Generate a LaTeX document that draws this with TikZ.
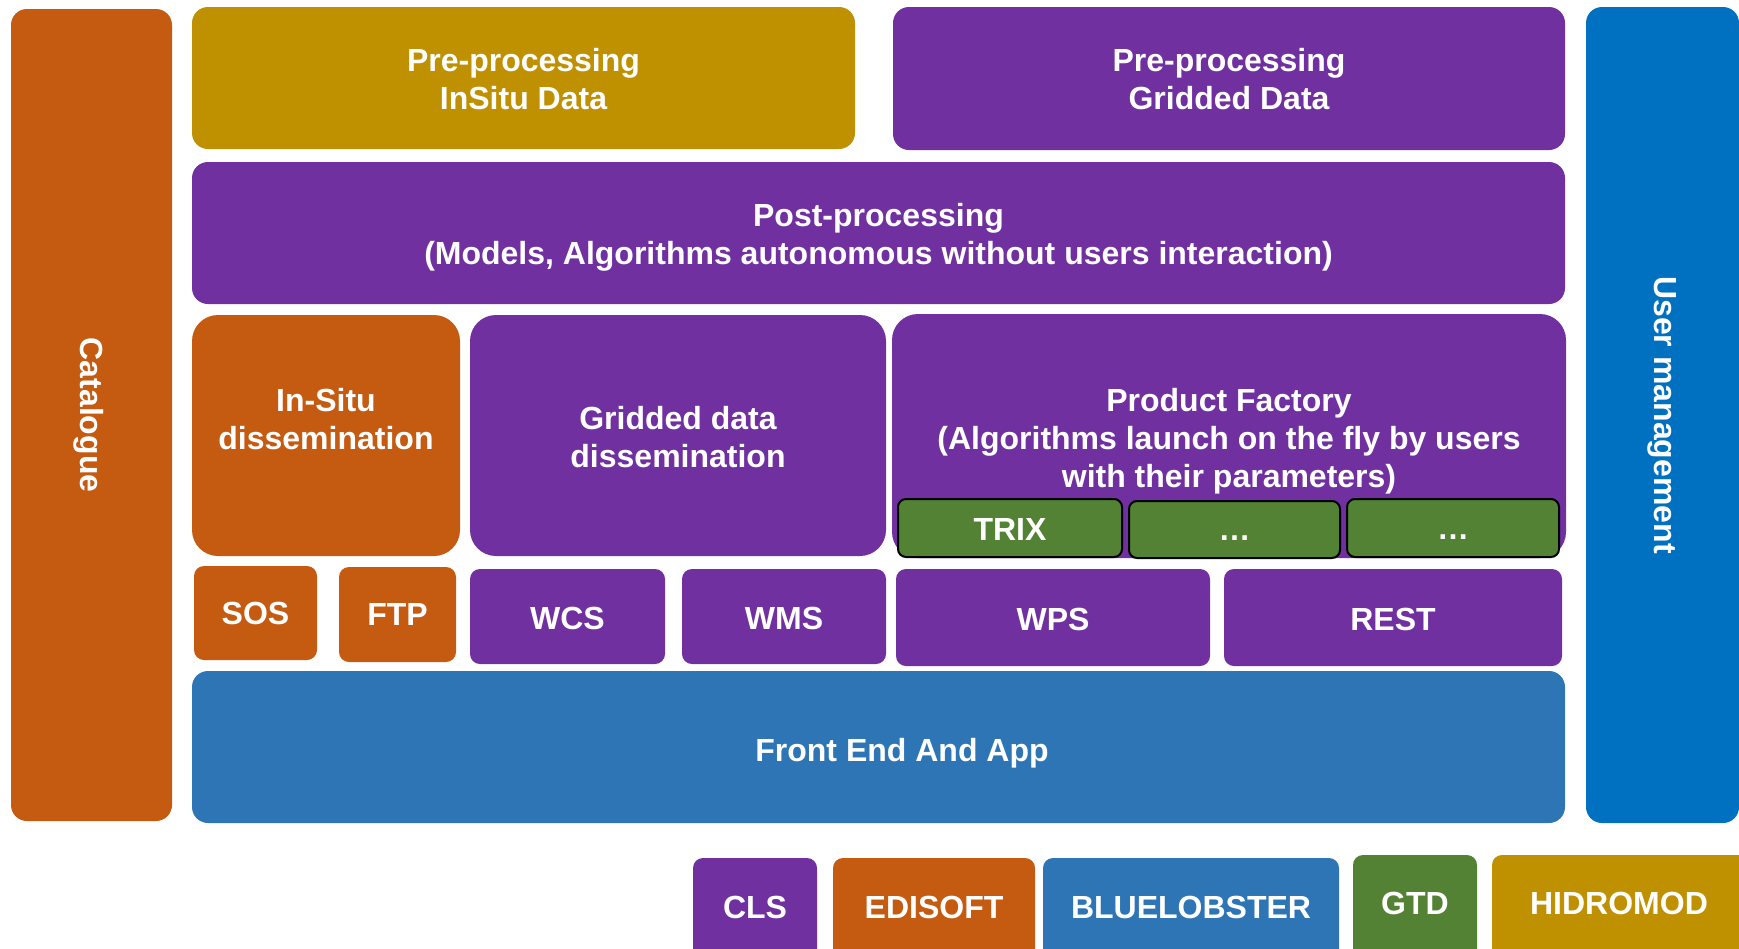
\documentclass[tikz,border=0pt]{standalone}
\usepackage{fontspec}
\setmainfont{Liberation Sans}
\definecolor{orng}{HTML}{C55A11}
\definecolor{gold}{HTML}{BF9000}
\definecolor{purp}{HTML}{7030A0}
\definecolor{fblue}{HTML}{2E75B6}
\definecolor{ublue}{HTML}{0070C0}
\definecolor{grn}{HTML}{548235}
\newcommand{\dn}[2]{\raisebox{-#1}[\height][\depth]{#2}}
\begin{document}
\begin{tikzpicture}[x=1pt,y=-1pt,
  box/.style={rectangle, rounded corners=16pt, inner sep=0pt, text=white,
    font=\fontsize{32}{38}\selectfont\bfseries, align=center},
  bigr/.style={rounded corners=26pt},
  smallr/.style={rounded corners=10pt},
  subbox/.style={box, fill=grn, draw=black, line width=2pt, rounded corners=8pt},
  txt/.style={inner sep=0pt, text=white, font=\fontsize{32}{38}\selectfont\bfseries, align=center}]
\useasboundingbox (0,0) rectangle (1739,948);
\clip (0,0) rectangle (1739,948);

\node[box, fill=orng, rotate=-90, minimum width=812pt, minimum height=161pt] (cat) at (91.5,415) {\dn{3pt}{Catalogue}};
\node[box, fill=ublue, rotate=-90, minimum width=816pt, minimum height=153pt] (user) at (1662.5,415) {User management};

\node[box, fill=gold, minimum width=663pt, minimum height=142pt] (preis) at (523.5,78) {};
\node[txt] (preist) at (523.5,79) {Pre-processing\\InSitu Data};
\node[box, fill=purp, minimum width=672pt, minimum height=143pt] (pregd) at (1229,78.5) {};
\node[txt] (pregdt) at (1229,79.5) {Pre-processing\\Gridded Data};
\node[box, fill=purp, minimum width=1373pt, minimum height=142pt] (post) at (878.5,233) {};
\node[txt] (postt) at (878.5,237.5) {Post-processing\\(Models, Algorithms autonomous without users interaction)};

\node[box, bigr, fill=orng, minimum width=268pt, minimum height=241pt] (isdiss) at (326,435.5) {};
\node[txt] (isdisst) at (326,419.5) {In-Situ\\dissemination};
\node[box, bigr, fill=purp, minimum width=416pt, minimum height=241pt] (gddiss) at (678,435.5) {};
\node[txt] (gddisst) at (678,437.5) {Gridded data\\dissemination};
\node[box, bigr, fill=purp, minimum width=674pt, minimum height=244pt] (pf) at (1229,436) {};
\node[txt] (pft) at (1229,441) {Product Factory\\(Algorithms launch on the fly by users\\with their parameters)};

\node[subbox, minimum width=224pt, minimum height=58pt] (trix) at (1010,528) {\dn{1pt}{TRIX}};
\node[subbox, minimum width=211pt, minimum height=57pt] (dotsa) at (1234.5,529.5) {\dn{9pt}{…}};
\node[subbox, minimum width=212pt, minimum height=58pt] (dotsb) at (1453,528) {\dn{9pt}{…}};

\node[box, smallr, fill=orng, minimum width=123pt, minimum height=94pt] (sos) at (255.5,613) {SOS};
\node[box, smallr, fill=orng, minimum width=117pt, minimum height=95pt] (ftp) at (397.5,614.5) {FTP};
\node[box, smallr, fill=purp, minimum width=195pt, minimum height=95pt] (wcs) at (567.5,616.5) {\dn{2pt}{WCS}};
\node[box, smallr, fill=purp, minimum width=204pt, minimum height=95pt] (wms) at (784,616.5) {\dn{2pt}{WMS}};
\node[box, smallr, fill=purp, minimum width=314pt, minimum height=97pt] (wps) at (1053,617.5) {\dn{2pt}{WPS}};
\node[box, smallr, fill=purp, minimum width=338pt, minimum height=97pt] (rest) at (1393,617.5) {\dn{2pt}{REST}};

\node[box, fill=fblue, minimum width=1373pt, minimum height=152pt] (front) at (878.5,747) {};
\node[txt] (frontt) at (902,753) {Front End And App};

\node[box, smallr, fill=purp, minimum width=124pt, minimum height=102pt] (cls) at (755,909) {\dn{-2pt}{CLS}};
\node[box, smallr, fill=orng, minimum width=202pt, minimum height=102pt] (edi) at (934,909) {\dn{-2pt}{EDISOFT}};
\node[box, smallr, fill=fblue, minimum width=296pt, minimum height=102pt] (blue) at (1191,909) {\dn{-2pt}{BLUELOBSTER}};
\node[box, smallr, fill=grn, minimum width=124pt, minimum height=105pt] (gtd) at (1415,907.5) {\dn{-4pt}{GTD}};
\node[box, smallr, fill=gold, minimum width=268pt, minimum height=105pt] (hid) at (1626,907.5) {\dn{-4pt}{HIDROMOD}\hspace{14pt}};
\end{tikzpicture}
\end{document}
